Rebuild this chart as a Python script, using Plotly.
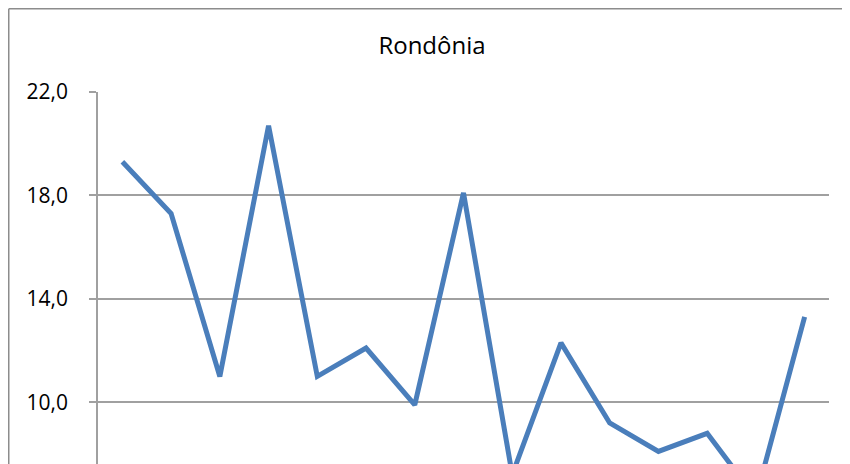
import plotly.graph_objects as go

# Data
categories = ["2000", "2001", "2002", "2003", "2004", "2005", "2006", "2007",
              "2008", "2009", "2010", "2011", "2012", "2013", "2014"]
values = [19.3, 17.3, 11.0, 20.7, 11.0, 12.1, 9.9, 18.1,
          7.2, 12.3, 9.2, 8.1, 8.8, 6.3, 13.3]
title_text = "Rondônia"
y_tick_values = [10, 14, 18, 22]

# The page body adds an 8px offset, so the figure is placed 8px in.
OFF = 8
W, H = 850 - OFF, 464 - OFF
L, R, T, B = 98 - OFF, 829 - OFF, 92 - OFF, 464 - OFF
px_per_unit = (402.3 - 92.0) / 12.0
y_top = 22.0
y_bottom = y_top - (B - T) / px_per_unit

fig = go.Figure()
fig.add_trace(go.Scatter(
    x=list(range(len(categories))),
    y=values,
    mode="lines",
    line=dict(color="#4A7EBB", width=5),
    hoverinfo="skip",
    cliponaxis=True,
))

grid_color = "#A0A0A0"

fig.update_layout(
    width=W, height=H,
    margin=dict(l=L, r=W - R, t=T, b=0, pad=0),
    paper_bgcolor="white",
    plot_bgcolor="white",
    showlegend=False,
    separators=",.",
    font=dict(family="Open Sans", color="#000000"),
    title=dict(
        text=title_text,
        x=(432 - OFF) / W, xref="container", xanchor="center",
        y=1 - (46 - OFF) / H, yref="container", yanchor="middle",
        font=dict(family="Open Sans", size=24, color="#000000"),
    ),
    xaxis=dict(
        range=[-0.5, len(categories) - 0.5],
        showgrid=False, zeroline=False, showline=False,
        showticklabels=False, ticks="",
        fixedrange=True,
    ),
    yaxis=dict(
        range=[y_bottom, y_top],
        tickvals=y_tick_values,
        tickformat=".1f",
        showgrid=True, gridcolor=grid_color, gridwidth=1.5,
        zeroline=False,
        showline=True, linecolor=grid_color, linewidth=1.5,
        ticks="outside", ticklen=7, tickcolor=grid_color, tickwidth=1.5,
        ticklabelstandoff=17,
        tickfont=dict(family="Open Sans", size=21, color="#000000"),
        fixedrange=True,
    ),
)

# Outer chart-area border (left and top edges visible in the crop)
bx = (0.75 - L) / (R - L)
by = 1 + (T - 0.75) / (B - T)
fig.add_shape(type="line", xref="paper", yref="paper",
              x0=bx, x1=bx, y0=by, y1=-0.2,
              line=dict(color="#8C8C8C", width=1.5))
fig.add_shape(type="line", xref="paper", yref="paper",
              x0=bx, x1=1.2, y0=by, y1=by,
              line=dict(color="#8C8C8C", width=1.5))

fig.write_html("out.html")
